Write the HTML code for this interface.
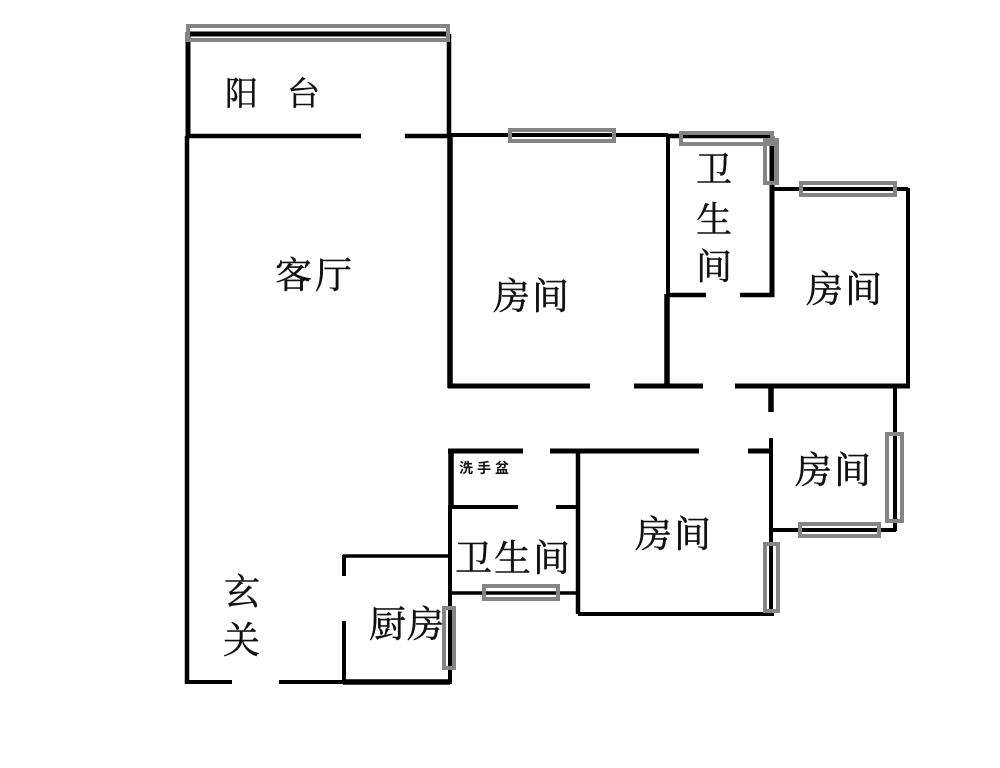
<!DOCTYPE html>
<html>
<head>
<meta charset="utf-8">
<style>
html,body{margin:0;padding:0;background:#fff;width:1000px;height:768px;overflow:hidden}
svg{display:block}
text{font-family:"Liberation Serif","Noto Serif CJK SC",serif;fill:#111;stroke:#111;stroke-width:.45px;font-size:36px}
.w{stroke:#000;fill:none;stroke-linecap:butt}
.g{stroke:#848484;fill:none;stroke-width:4}
</style>
</head>
<body>
<svg width="1000" height="768" viewBox="0 0 1000 768" xmlns="http://www.w3.org/2000/svg">
<rect width="1000" height="768" fill="#fff"/>
<!-- walls -->
<g class="w" stroke-width="4">
<path d="M188 32V136" stroke-width="5"/>
<path d="M187 136V684" stroke-width="4.5"/>
<path d="M188 34H449" stroke-width="5"/>
<path d="M449 34V136" stroke-width="4.5"/>
<path d="M187 136H361M405 136H449" stroke-width="4.5"/>
<path d="M449 135H668" stroke-width="4"/>
<path d="M450 135V388" stroke-width="5.5"/>
<path d="M448 386H590M634 386H703M735 386H910" stroke-width="5"/>
<path d="M668 134V295" stroke-width="4"/>
<path d="M667 294V386" stroke-width="5.5"/>
<path d="M668 136H773" stroke-width="4.5"/>
<path d="M772 136V297" stroke-width="5"/>
<path d="M667 295H706M740 295H774" stroke-width="4.5"/>
<path d="M771 189H908" stroke-width="4"/>
<path d="M908 188V387" stroke-width="4"/>
<path d="M771 438V614" stroke-width="4"/>
<path d="M771 387V412" stroke-width="5.5"/>
<path d="M895 387V531" stroke-width="4"/>
<path d="M771 530H896" stroke-width="4"/>
<path d="M578 614H774" stroke-width="4"/>
<path d="M550 451H699M748 451H771" stroke-width="5"/>
<path d="M578 451V614" stroke-width="4.5"/>
<path d="M448 451H523" stroke-width="5"/>
<path d="M451 449V507" stroke-width="5.5"/>
<path d="M450 505V684" stroke-width="4"/>
<path d="M450 507H518M556 507H578" stroke-width="4"/>
<path d="M450 593H578" stroke-width="3.5"/>
<path d="M343 556H450" stroke-width="3.5"/>
<path d="M344 555V576M344 621V684" stroke-width="4"/>
<path d="M187 682H232M279 682H343" stroke-width="4"/>
<path d="M343 682H450" stroke-width="5.5"/>
</g>
<!-- windows -->
<g class="g">
<rect x="188" y="26" width="260" height="14"/>
<rect x="510" y="130" width="104" height="11"/>
<rect x="681" y="133" width="91" height="11"/>
<rect x="765" y="140" width="12" height="43"/>
<rect x="801" y="183" width="94" height="12"/>
<rect x="887" y="434" width="15" height="87"/>
<rect x="800" y="524" width="79" height="12"/>
<rect x="765" y="544" width="13" height="67"/>
<rect x="484" y="586" width="74" height="13"/>
<rect x="444" y="608" width="10" height="60"/>
</g>
<!-- labels -->
<text x="225" y="105" style="font-size:33px">阳</text>
<text x="287" y="105" style="font-size:33px">台</text>
<text x="275" y="288" style="font-size:37px;letter-spacing:3px">客厅</text>
<text x="493" y="309" style="font-size:37px;letter-spacing:2px">房间</text>
<text x="696" y="182" style="font-size:36px">卫</text>
<text x="696" y="232" style="font-size:36px">生</text>
<text x="696" y="279" style="font-size:36px">间</text>
<text x="806" y="302" style="font-size:37px;letter-spacing:2px">房间</text>
<text x="795" y="483" style="font-size:37px;letter-spacing:2px">房间</text>
<text x="635" y="547" style="font-size:37px;letter-spacing:2px">房间</text>
<text x="455" y="571" style="font-size:37px;letter-spacing:2px">卫生间</text>
<text x="369" y="637" style="font-size:37px;letter-spacing:1px">厨房</text>
<text x="224" y="604" style="font-size:36px">玄</text>
<text x="223" y="653" style="font-size:37px">关</text>
<text x="459" y="473" style="font-size:14px;font-weight:bold;stroke-width:0;font-family:'Liberation Sans','Noto Sans CJK SC',sans-serif;letter-spacing:4px">洗手盆</text>
</svg>
</body>
</html>
